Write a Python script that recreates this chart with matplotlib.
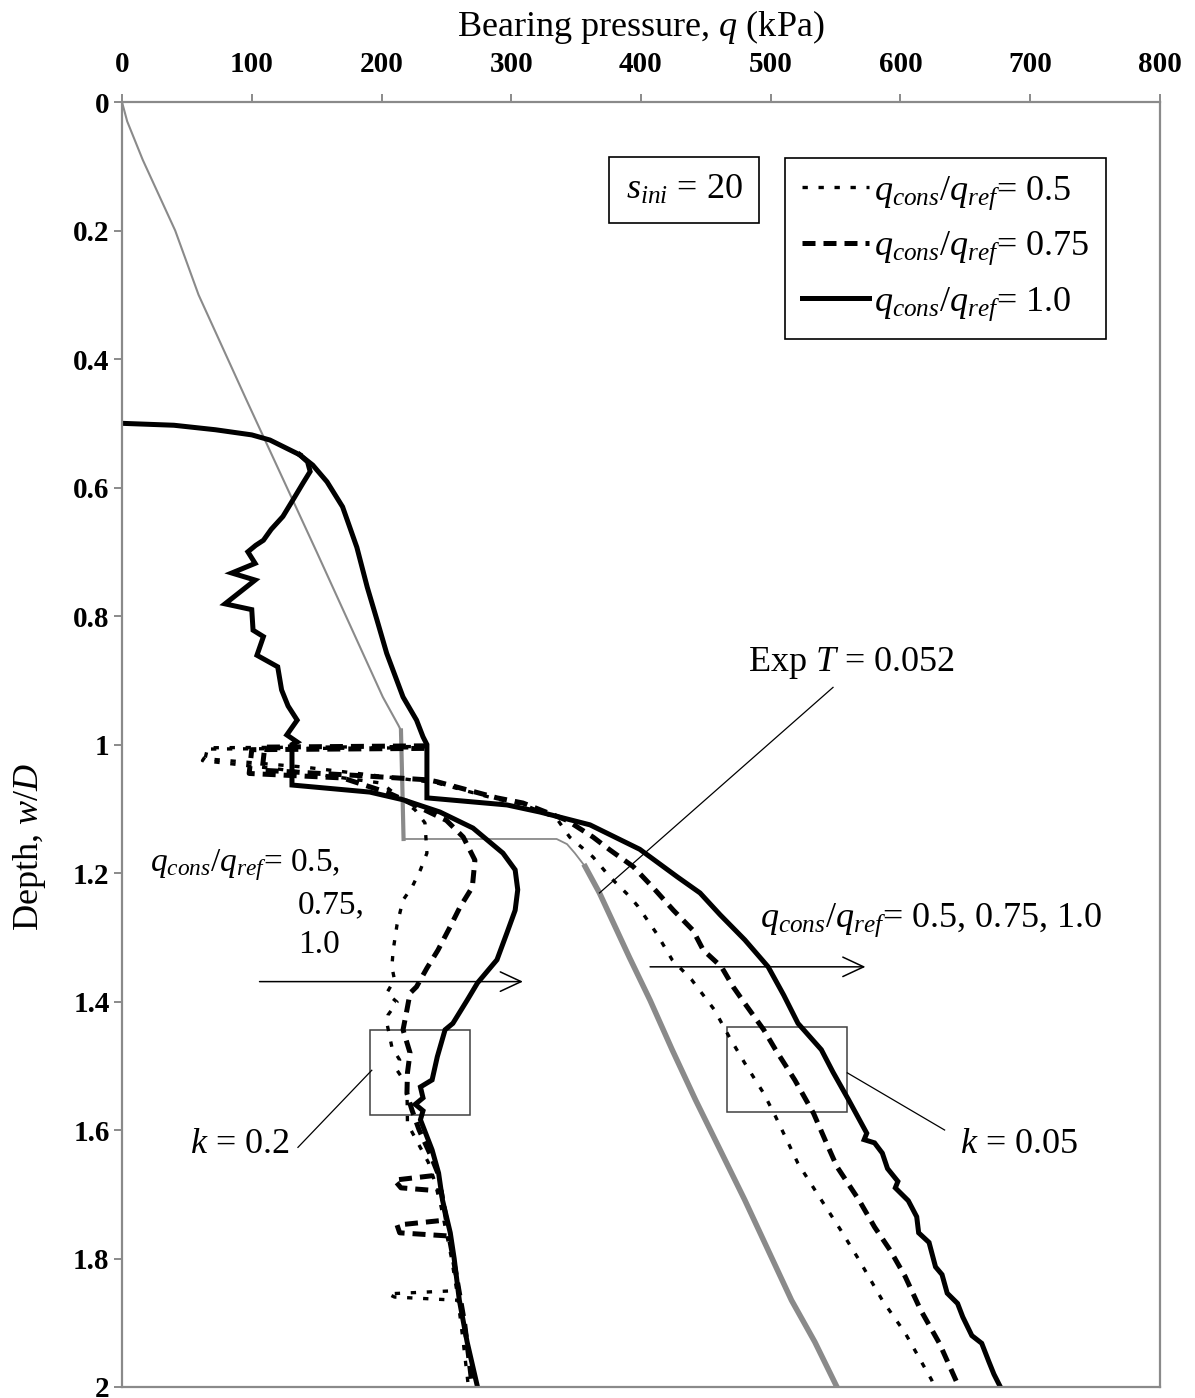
import matplotlib
matplotlib.use("Agg")
import matplotlib.pyplot as plt
from matplotlib.lines import Line2D
from matplotlib.patches import Rectangle
from matplotlib.ticker import FuncFormatter

plt.rcParams['font.family'] = ['Liberation Serif', 'DejaVu Serif']
plt.rcParams['mathtext.fontset'] = 'custom'
plt.rcParams['mathtext.rm'] = 'Liberation Serif'
plt.rcParams['mathtext.it'] = 'Liberation Serif:italic'
plt.rcParams['mathtext.bf'] = 'Liberation Serif:bold'

# ---------------- data: bearing pressure q (kPa) vs depth w/D ----------------
# Experiment, T = 0.052
exp_q = [0, 4, 16, 41, 59, 96, 150, 201, 213, 215,
         216, 217,
         335, 343, 349, 357,
         368, 391, 407, 424, 442, 461, 480, 498, 516, 534, 551]
exp_d = [0, 0.03, 0.09, 0.2, 0.3, 0.464, 0.7, 0.926, 0.97, 0.978,
         1.06, 1.147,
         1.147, 1.155, 1.169, 1.19,
         1.231, 1.331, 1.398, 1.475, 1.553, 1.631, 1.709, 1.787, 1.865, 1.93, 2.0]

# initial penetration shared by both q_cons/q_ref = 1.0 curves
init_q = [0, 40, 72, 100, 114, 128, 137]
init_d = [0.5, 0.503, 0.51, 0.518, 0.526, 0.54, 0.549]

# k = 0.2
k02_solid_q = [137, 143, 145, 139.5, 133, 124, 115, 109, 103, 97, 102.6, 84.6, 102.6,
               79.4, 100, 101, 109, 104, 120, 123, 128, 135, 127, 135, 131, 131,
               191, 216.7, 245, 270.5, 293.6, 303, 305, 303, 296.7, 289, 274, 266,
               255, 249, 243, 239, 230, 232, 226, 232, 230, 239, 244, 247, 253,
               256, 260, 266, 274]
k02_solid_d = [0.549, 0.56, 0.575, 0.593, 0.615, 0.645, 0.665, 0.682, 0.69, 0.70, 0.718,
               0.733, 0.744, 0.781, 0.79, 0.822, 0.832, 0.861, 0.879, 0.915, 0.94,
               0.962, 0.985, 0.996, 1.0, 1.063,
               1.074, 1.086, 1.105, 1.13, 1.169, 1.195, 1.226, 1.258, 1.293, 1.335,
               1.371, 1.398, 1.434, 1.444, 1.486, 1.522, 1.533, 1.55, 1.56, 1.57,
               1.584, 1.631, 1.667, 1.709, 1.76, 1.8, 1.865, 1.93, 2.0]

k02_dash_q = [233, 100, 98, 170, 205, 216, 250, 263, 272, 270, 260.5, 252.8, 243.5,
              235, 227, 222, 219.6, 216.6, 222, 220, 219.6, 223.5, 229, 238, 244,
              210, 215, 246, 250, 212, 214, 252, 258, 264, 270]
k02_dash_d = [1.006, 1.008, 1.045, 1.052, 1.075, 1.085, 1.118, 1.144, 1.18, 1.222,
              1.253, 1.284, 1.32, 1.348, 1.377, 1.387, 1.413, 1.444, 1.48, 1.511,
              1.543, 1.569, 1.6, 1.64, 1.67, 1.678, 1.69, 1.695, 1.74, 1.748, 1.76,
              1.765, 1.83, 1.9, 2.0]

k02_dot_q = [233, 68, 62, 120, 200, 226, 233.5, 235, 230, 223.5, 216.6, 212, 209,
             208, 210, 204, 212, 205, 204, 208, 214, 212, 219.6, 220, 228, 236, 241,
             246, 250, 254, 258, 205, 210, 259, 263, 267]
k02_dot_d = [1.005, 1.007, 1.025, 1.038, 1.06, 1.102, 1.122, 1.169, 1.195, 1.222,
             1.242, 1.28, 1.32, 1.346, 1.366, 1.387, 1.401, 1.421, 1.432, 1.471,
             1.491, 1.507, 1.53, 1.59, 1.62, 1.65, 1.68, 1.72, 1.76, 1.8, 1.85,
             1.855, 1.86, 1.865, 1.93, 2.0]

# k = 0.05
k005_solid_q = [137, 147, 158, 170, 181, 189, 196.5, 204, 216.6, 227, 232, 235, 235,
                296.7, 322, 360.7, 399, 428, 445.5, 461, 480, 498, 510, 521, 539,
                548, 560, 574, 572, 580, 586, 590, 598, 596, 606, 612.5, 614, 622,
                627, 632, 636, 644, 648, 655, 662.6, 668, 672, 677]
k005_solid_d = [0.549, 0.565, 0.591, 0.63, 0.693, 0.755, 0.806, 0.858, 0.926, 0.962,
                0.988, 1.0, 1.083, 1.094, 1.105, 1.125, 1.163, 1.206, 1.231, 1.265,
                1.304, 1.346, 1.39, 1.434, 1.475, 1.51, 1.553, 1.605, 1.615, 1.62,
                1.636, 1.66, 1.68, 1.69, 1.71, 1.735, 1.76, 1.775, 1.813, 1.825,
                1.854, 1.87, 1.891, 1.92, 1.932, 1.96, 1.98, 2.0]

k005_dash_q = [235, 110, 108, 180, 236, 243, 289, 309, 343, 363, 376, 394, 409, 425,
               440, 448, 462, 471, 480, 494.6, 503.7, 518.5, 533, 542, 551, 568, 580,
               592, 603.6, 615.5, 630, 645]
k005_dash_d = [1.002, 1.004, 1.04, 1.048, 1.055, 1.058, 1.083, 1.091, 1.118, 1.144,
               1.164, 1.19, 1.222, 1.258, 1.289, 1.32, 1.346, 1.377, 1.403, 1.444,
               1.475, 1.522, 1.574, 1.616, 1.657, 1.709, 1.751, 1.787, 1.828, 1.88,
               1.932, 2.0]

k005_dot_q = [235, 66, 64, 140, 236, 243, 289, 309, 335, 345, 363, 376, 391.5, 397.7,
              412, 424, 439, 456.6, 468, 480, 494.6, 503.7, 512.5, 521, 539, 554,
              568, 586, 603.6, 624, 626]
k005_dot_d = [1.003, 1.005, 1.022, 1.035, 1.058, 1.06, 1.085, 1.093, 1.115, 1.144,
              1.175, 1.206, 1.237, 1.252, 1.294, 1.335, 1.366, 1.413, 1.455, 1.496,
              1.543, 1.579, 1.616, 1.652, 1.709, 1.756, 1.802, 1.865, 1.916, 1.989,
              2.0]

ratio_labels = ['0.5', '0.75', '1.0']
x_ticks = [0, 100, 200, 300, 400, 500, 600, 700, 800]
y_ticks = [0, 0.2, 0.4, 0.6, 0.8, 1.0, 1.2, 1.4, 1.6, 1.8, 2.0]

# ---------------- styles ----------------
GREY = '#8a8a8a'
DOT = dict(color='black', lw=2.4, dashes=(1.6, 3.2), solid_capstyle='butt',
           dash_capstyle='butt')
DASH = dict(color='black', lw=3.6, dashes=(2.6, 1.6), dash_capstyle='butt')
SOLID = dict(color='black', lw=3.6, solid_joinstyle='miter')

fig = plt.figure(figsize=(11.95, 13.98), dpi=100)
ax = fig.add_axes([0.1021, 0.00787, 0.8686, 0.9191])

# experiment curve: thin above the plateau, thicker below it
ax.plot(exp_q[:10], exp_d[:10], color=GREY, lw=1.5)
ax.plot(exp_q[9:12], exp_d[9:12], color=GREY, lw=3.0)
ax.plot(exp_q[11:16], exp_d[11:16], color=GREY, lw=1.3)
ax.plot(exp_q[15:], exp_d[15:], color=GREY, lw=4.0)

ax.plot(k02_dot_q, k02_dot_d, **DOT)
ax.plot(k005_dot_q, k005_dot_d, **DOT)
ax.plot(k02_dash_q, k02_dash_d, **DASH)
ax.plot(k005_dash_q, k005_dash_d, **DASH)
ax.plot(init_q, init_d, **SOLID)
ax.plot(k02_solid_q, k02_solid_d, **SOLID)
ax.plot(k005_solid_q, k005_solid_d, **SOLID)

# ---------------- axes ----------------
ax.set_xlim(0, 800)
ax.set_ylim(2, 0)
ax.set_xticks(x_ticks)
ax.set_yticks(y_ticks)
ax.xaxis.tick_top()
ax.xaxis.set_label_position('top')
ax.yaxis.set_major_formatter(FuncFormatter(lambda v, p: f'{v:g}'))
for s in ax.spines.values():
    s.set_color(GREY)
    s.set_linewidth(1.6)
ax.tick_params(axis='both', which='major', direction='out', length=6, width=1.4,
               color=GREY, labelsize=21)
ax.tick_params(axis='x', pad=11)
ax.tick_params(axis='y', pad=3)
for lab in ax.get_xticklabels() + ax.get_yticklabels():
    lab.set_fontweight('bold')

ax.set_xlabel('Bearing pressure, $q$ (kPa)', fontsize=26, labelpad=11)
ax.set_ylabel('Depth, $w/D$', fontsize=26)
ax.yaxis.set_label_coords(-0.0713, 0.42)

# ---------------- legend and notes ----------------
handles = [Line2D([], [], **DOT), Line2D([], [], **DASH), Line2D([], [], **SOLID)]
labels = [r'$q_{cons}/q_{ref}$= ' + r for r in ratio_labels]
leg = ax.legend(handles, labels, loc='upper right', bbox_to_anchor=(0.948, 0.9564),
                borderaxespad=0, fontsize=26, handlelength=1.86, handletextpad=0.15,
                labelspacing=0.5, borderpad=0.45, fancybox=False, framealpha=1)
leg.get_frame().set_edgecolor('black')
leg.get_frame().set_linewidth(1.2)

ax.text(0.5414, 0.9315, r'$s_{ini}$ = 20', transform=ax.transAxes, fontsize=26,
        ha='center', va='center',
        bbox=dict(boxstyle='square,pad=0.45', fc='white', ec='black', lw=1.2))

# experiment label with leader
ax.text(562.6, 0.873, 'Exp $T$ = 0.052', fontsize=26, ha='center', va='center')
ax.plot([548, 368], [0.911, 1.231], color='black', lw=0.9)

# arrows showing increasing q_cons/q_ref
ax.text(21.6, 1.188, r'$q_{cons}/q_{ref}$= 0.5,', fontsize=24, ha='left', va='center')
ax.text(135.6, 1.25, '0.75,', fontsize=24, ha='left', va='center')
ax.text(135.6, 1.312, '1.0', fontsize=24, ha='left', va='center')
arrow = dict(arrowstyle='->,head_length=0.75,head_width=0.35', lw=1.1, color='black',
             mutation_scale=20, shrinkA=0, shrinkB=0)
ax.annotate('', xy=(309, 1.369), xytext=(106, 1.369), arrowprops=arrow)
ax.text(491.7, 1.273, r'$q_{cons}/q_{ref}$= 0.5, 0.75, 1.0', fontsize=26,
        ha='left', va='center')
ax.annotate('', xy=(573, 1.346), xytext=(407, 1.346), arrowprops=arrow)

# permeability call-outs
ax.add_patch(Rectangle((191, 1.444), 77, 0.133, fill=False, ec='#404040', lw=1.1))
ax.plot([192.5, 135.6], [1.507, 1.627], color='black', lw=0.9)
ax.text(129.5, 1.622, '$k$ = 0.2', fontsize=26, ha='right', va='center')
ax.add_patch(Rectangle((466, 1.44), 93, 0.132, fill=False, ec='#404040', lw=1.1))
ax.plot([559, 634], [1.511, 1.6], color='black', lw=0.9)
ax.text(646, 1.622, '$k$ = 0.05', fontsize=26, ha='left', va='center')

fig.savefig('out.png', dpi=100)
